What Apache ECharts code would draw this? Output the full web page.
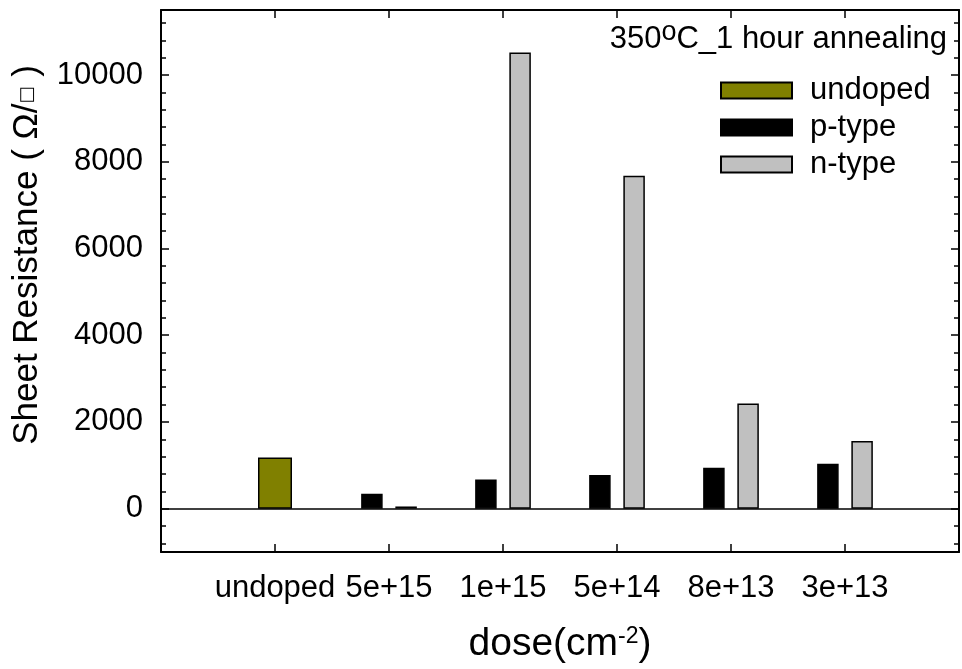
<!DOCTYPE html>
<html>
<head>
<meta charset="utf-8">
<script src="https://cdn.jsdelivr.net/npm/echarts@6/dist/echarts.min.js"></script>
<style>
    html, body { margin: 0; padding: 0; background: #fff; }
    #main { width: 962px; height: 669px; }
</style>
</head>
<body>
<div id="main"></div>
<script>
// data (empty categories pad the axis ends)
const doses = ['', 'undoped', '5e+15', '1e+15', '5e+14', '8e+13', '3e+13', ''];
const undoped = [null, 1180, null, null, null, null, null, null];
const pType = [null, null, 344, 674, 773, 941, 1033, null];
const nType = [null, null, 50, 10520, 7675, 2426, 1561, null];
const yMajorTicks = [0, 2000, 4000, 6000, 8000, 10000];
const yMinorTicks = [-800, -400, 400, 800, 1200, 1600, 2400, 2800, 3200, 3600, 4400, 4800, 5200, 5600,
    6400, 6800, 7200, 7600, 8400, 8800, 9200, 9600, 10400, 10800, 11200];

const font = 'Liberation Sans';
const frameLine = {show: true, onZero: false, lineStyle: {color: '#000', width: 2}};
const tickStyle = {color: '#000', width: 1.5};

let myChart = echarts.init(document.getElementById('main'));

// y axis helper: major ticks (with or without labels) or minor ticks
let yAxisOf = (position, minor, labels) => ({
    type: 'value',
    position: position,
    min: -1000,
    max: 11500,
    axisLine: minor ? {show: false} : frameLine,
    splitLine: {show: false},
    axisTick: {
        show: true,
        inside: true,
        length: minor ? 5 : 8,
        customValues: minor ? yMinorTicks : yMajorTicks,
        lineStyle: tickStyle
    },
    axisLabel: {
        show: labels,
        customValues: yMajorTicks,
        formatter: v => String(v),
        fontFamily: font,
        fontSize: 31,
        color: '#000',
        margin: 18
    }
});

let option = {
    animation: false,
    // annealing note in the upper right corner
    title: {
        text: '{n|350}{s|o}{n|C_1 hour annealing}',
        right: 15,
        top: 19,
        padding: 0,
        textStyle: {
            fontWeight: 'normal',
            rich: {
                n: {fontFamily: font, fontSize: 31, lineHeight: 40, fontWeight: 'normal', color: '#000'},
                s: {fontFamily: font, fontSize: 27, lineHeight: 27, fontWeight: 'normal', verticalAlign: 'top', color: '#000'}
            }
        }
    },
    grid: {left: 161, right: 1, top: 10, bottom: 115, containLabel: false},
    legend: {
        orient: 'vertical',
        left: 715,
        top: 70,
        itemWidth: 71,
        itemHeight: 16,
        itemGap: 6,
        icon: 'rect',
        data: ['undoped', 'p-type', 'n-type'],
        textStyle: {fontFamily: font, fontSize: 31, lineHeight: 31, color: '#000', padding: [0, 0, 0, 13]}
    },
    graphic: [
        {
            type: 'text',
            x: 27,
            y: 255,
            rotation: Math.PI / 2,
            style: {
                text: '{a|Sheet Resistance ( Ω/}{b|□}{a| )}',
                align: 'center',
                verticalAlign: 'middle',
                rich: {
                    a: {fontFamily: font, fontSize: 35, lineHeight: 35, fill: '#000'},
                    b: {fontFamily: 'DejaVu Sans', fontSize: 18, lineHeight: 35, fill: '#000'}
                }
            }
        }
    ],
    xAxis: [
        {
            type: 'category',
            data: doses,
            boundaryGap: false,
            position: 'bottom',
            axisLine: frameLine,
            axisTick: {show: true, inside: true, length: 8, lineStyle: tickStyle, interval: (i, v) => v !== ''},
            axisLabel: {fontFamily: font, fontSize: 31, color: '#000', margin: 21, interval: 0},
            splitLine: {show: false},
            name: '{a|dose(cm}{b|-2}{a|)}',
            nameLocation: 'middle',
            nameGap: 73,
            nameTextStyle: {
                rich: {
                    a: {fontFamily: font, fontSize: 39, lineHeight: 39, color: '#000'},
                    b: {fontFamily: font, fontSize: 23, lineHeight: 16, verticalAlign: 'top', color: '#000'}
                }
            }
        },
        {
            type: 'category',
            data: doses,
            boundaryGap: false,
            position: 'top',
            axisLine: frameLine,
            axisTick: {show: true, inside: true, length: 8, lineStyle: tickStyle, interval: (i, v) => v !== ''},
            axisLabel: {show: false},
            splitLine: {show: false}
        }
    ],
    yAxis: [
        yAxisOf('left', false, true),
        yAxisOf('left', true, false),
        yAxisOf('right', false, false),
        yAxisOf('right', true, false)
    ],
    series: [
        {
            name: 'undoped',
            type: 'bar',
            xAxisIndex: 1,
            yAxisIndex: 0,
            barWidth: 34,
            data: undoped,
            itemStyle: {color: '#808000', borderColor: '#000', borderWidth: 1.5}
        },
        {
            name: 'p-type',
            type: 'bar',
            xAxisIndex: 0,
            yAxisIndex: 0,
            barWidth: 21.5,
            barGap: '59%',
            data: pType,
            itemStyle: {color: '#000', borderColor: '#000', borderWidth: 1.5},
            // the line at zero
            markLine: {
                silent: true,
                symbol: 'none',
                label: {show: false},
                lineStyle: {color: '#000', width: 1.5, type: 'solid'},
                data: [{yAxis: 0}]
            }
        },
        {
            name: 'n-type',
            type: 'bar',
            xAxisIndex: 0,
            yAxisIndex: 0,
            barWidth: 21.5,
            barGap: '59%',
            data: nType,
            itemStyle: {color: '#c0c0c0', borderColor: '#000', borderWidth: 1.5}
        }
    ]
};

myChart.setOption(option);
</script>
</body>
</html>
